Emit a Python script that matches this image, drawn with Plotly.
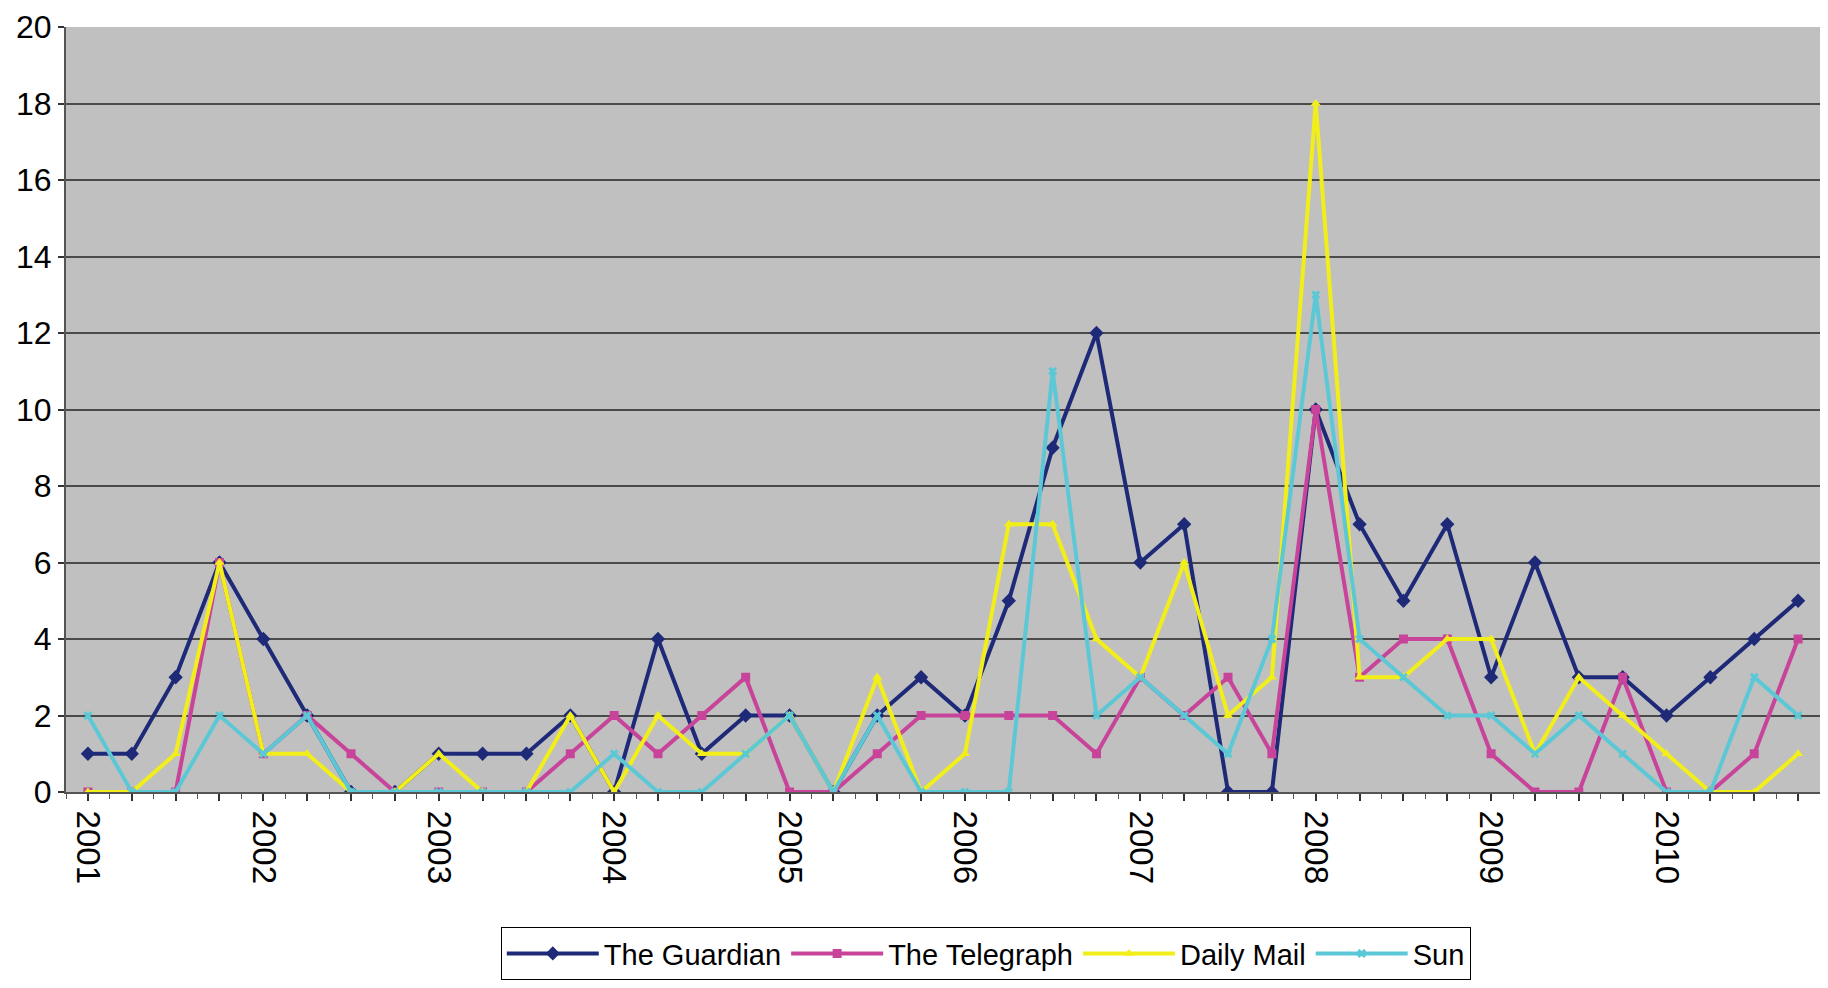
import plotly.graph_objects as go

years = ["2001", "2002", "2003", "2004", "2005", "2006", "2007", "2008", "2009", "2010"]
quarters_per_year = 4

guardian = [1, 1, 3, 6, 4, 2, 0, 0, 1, 1, 1, 2, 0, 4, 1, 2, 2, 0, 2, 3,
            2, 5, 9, 12, 6, 7, 0, 0, 10, 7, 5, 7, 3, 6, 3, 3, 2, 3, 4, 5]
telegraph = [0, 0, 0, 6, 1, 2, 1, 0, 0, 0, 0, 1, 2, 1, 2, 3, 0, 0, 1, 2,
             2, 2, 2, 1, 3, 2, 3, 1, 10, 3, 4, 4, 1, 0, 0, 3, 0, 0, 1, 4]
daily_mail = [0, 0, 1, 6, 1, 1, 0, 0, 1, 0, 0, 2, 0, 2, 1, 1, 2, 0, 3, 0,
              1, 7, 7, 4, 3, 6, 2, 3, 18, 3, 3, 4, 4, 1, 3, 2, 1, 0, 0, 1]
sun = [2, 0, 0, 2, 1, 2, 0, 0, 0, 0, 0, 0, 1, 0, 0, 1, 2, 0, 2, 0,
       0, 0, 11, 2, 3, 2, 1, 4, 13, 4, 3, 2, 2, 1, 2, 1, 0, 0, 3, 2]

series = [
    ("The Guardian", guardian, "#1E2A78", "diamond", 11),
    ("The Telegraph", telegraph, "#C8449A", "square", 9),
    ("Daily Mail", daily_mail, "#F2EE1A", "triangle-up", 9),
    ("Sun", sun, "#5CC8D6", "x", 8),
]

n = len(guardian)
x = list(range(n))
tickvals = x
ticktext = [years[i // quarters_per_year] if i % quarters_per_year == 0 else "" for i in x]

FONT = "Liberation Sans, Arial, sans-serif"

fig = go.Figure()
for name, vals, color, sym, size in series:
    fig.add_trace(go.Scatter(
        x=x, y=vals, name=name, mode="lines+markers",
        line=dict(color=color, width=4),
        marker=dict(symbol=sym, size=size, color=color,
                    line=dict(width=0, color=color)),
    ))

fig.update_layout(
    width=1820, height=980,
    margin=dict(l=58, r=8, t=19, b=190),
    paper_bgcolor="white",
    plot_bgcolor="#C0C0C0",
    font=dict(family=FONT, size=29, color="black"),
    showlegend=True,
    legend=dict(
        orientation="h", x=0.5244, xanchor="center", y=-0.2458, yanchor="bottom",
        bgcolor="white", bordercolor="black", borderwidth=1,
        font=dict(family=FONT, size=29, color="black"),
        itemwidth=92,
        tracegroupgap=0,
    ),
    xaxis=dict(
        range=[-0.5, n - 0.5], automargin=False,
        tickmode="array", tickvals=tickvals, ticktext=ticktext,
        tickangle=90, ticks="outside", ticklen=7, tickwidth=2, tickcolor="#333333",
        ticklabelstandoff=3, ticklabeloverflow="allow",
        minor=dict(ticks="outside", ticklen=5, tickwidth=1, tickcolor="#555555",
                   tick0=-0.5, dtick=1),
        showgrid=False, zeroline=False,
        showline=True, linecolor="#555555", linewidth=2,
        tickfont=dict(family=FONT, size=33, color="black"),
    ),
    yaxis=dict(
        range=[0, 20], dtick=2, tick0=0, automargin=False,
        ticks="outside", ticklen=6, tickwidth=2, tickcolor="#333333",
        ticklabeloverflow="allow",
        showgrid=True, gridcolor="#4A4A4A", gridwidth=2,
        zeroline=False,
        showline=True, linecolor="#555555", linewidth=2,
        tickfont=dict(family=FONT, size=32, color="black"),
    ),
)

fig.write_html("out.html")
